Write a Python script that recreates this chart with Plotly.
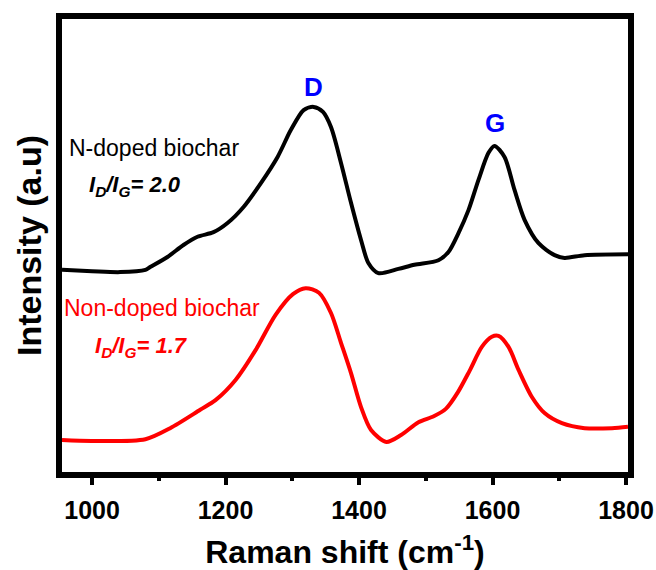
import plotly.graph_objects as go

# Raman shift (cm^-1) and intensity (a.u., offset)
n_doped_x = [955, 1000, 1042, 1080, 1087, 1113, 1137, 1158, 1182, 1203, 1227, 1253,
             1278, 1298, 1317, 1332, 1346, 1358, 1373, 1388, 1403, 1414, 1429, 1459,
             1483, 1519, 1534, 1549, 1564, 1579, 1594, 1603, 1618, 1633, 1648, 1669,
             1693, 1708, 1738, 1803]
n_doped_y = [44.7, 44.4, 44.2, 44.7, 45.3, 47.5, 50.1, 51.9, 52.9, 54.9, 58.4, 63.6,
             69.3, 75.2, 79.5, 80.2, 79.1, 75.8, 68.0, 59.3, 51.2, 46.2, 44.0, 44.9,
             45.8, 46.8, 48.6, 52.7, 57.7, 64.3, 70.2, 71.7, 69.3, 62.1, 55.6, 50.5,
             47.9, 47.3, 47.9, 48.1]

non_doped_x = [955, 1000, 1080, 1117, 1162, 1185, 1215, 1245, 1275, 1301, 1320, 1340,
               1358, 1373, 1388, 1403, 1418, 1441, 1463, 1489, 1512, 1530, 1548, 1566,
               1584, 1599, 1609, 1624, 1639, 1659, 1678, 1704, 1738, 1779, 1803]
non_doped_y = [7.6, 7.4, 7.8, 10.2, 14.2, 16.3, 20.7, 27.2, 34.9, 39.4, 40.7, 39.7,
               35.3, 28.8, 22.2, 14.8, 9.8, 7.2, 8.7, 11.5, 12.8, 14.4, 18.0, 22.8,
               27.9, 30.1, 30.3, 27.9, 22.9, 17.0, 13.5, 11.3, 10.2, 10.2, 10.5]

x_ticks = [1000, 1200, 1400, 1600, 1800]
peak_labels = ["D", "G"]
peak_pos = [1332, 1603]
peak_height = [80.2, 71.7]

FONT = "Liberation Sans, Arial, sans-serif"

fig = go.Figure()
fig.add_trace(go.Scatter(x=n_doped_x, y=n_doped_y, mode="lines",
                         line=dict(color="black", width=4, shape="spline", smoothing=0.8),
                         showlegend=False, hoverinfo="skip"))
fig.add_trace(go.Scatter(x=non_doped_x, y=non_doped_y, mode="lines",
                         line=dict(color="#ff0000", width=4, shape="spline", smoothing=0.8),
                         showlegend=False, hoverinfo="skip"))

for lab, px, ph in zip(peak_labels, peak_pos, peak_height):
    fig.add_annotation(x=px, y=ph, text=lab, showarrow=False,
                       yshift=20 if lab == "D" else 23,
                       font=dict(family=FONT, size=26, color="#0000ff", weight="bold"))

fig.add_annotation(xref="paper", yref="paper", x=0.008, y=0.715, xanchor="left",
                   yanchor="middle", text="N-doped biochar", showarrow=False,
                   font=dict(family=FONT, size=23, color="black"))
fig.add_annotation(xref="paper", yref="paper", x=0.045, y=0.632, xanchor="left",
                   yanchor="middle", text="<i>I<sub>D</sub>/I<sub>G</sub>= 2.0</i>",
                   showarrow=False,
                   font=dict(family=FONT, size=22, color="black", weight="bold"))
fig.add_annotation(xref="paper", yref="paper", x=0.0, y=0.362, xanchor="left",
                   yanchor="middle", text="Non-doped biochar", showarrow=False,
                   font=dict(family=FONT, size=23, color="#ff0000"))
fig.add_annotation(xref="paper", yref="paper", x=0.055, y=0.276, xanchor="left",
                   yanchor="middle", text="<i>I<sub>D</sub>/I<sub>G</sub>= 1.7</i>",
                   showarrow=False,
                   font=dict(family=FONT, size=22, color="#ff0000", weight="bold"))

fig.update_layout(
    width=656, height=570,
    margin=dict(l=62, r=28, t=19, b=98),
    paper_bgcolor="white", plot_bgcolor="white",
    xaxis=dict(range=[955, 1803], tickvals=x_ticks, ticktext=[str(t) for t in x_ticks],
               automargin=False,
               showgrid=False, zeroline=False, showline=True, linewidth=6,
               linecolor="black", mirror=True, ticks="outside", ticklen=7,
               tickwidth=4, tickcolor="black", ticklabelstandoff=4,
               minor=dict(tickvals=[1100, 1300, 1500, 1700], ticks="outside",
                          ticklen=3, tickwidth=4, tickcolor="black"),
               tickfont=dict(family=FONT, size=25, color="black", weight="bold"),
               title=dict(text="Raman shift (cm<sup>-1</sup>)",
                          font=dict(family=FONT, size=32, color="black", weight="bold"),
                          standoff=20)),
    yaxis=dict(range=[0.65, 99.35], automargin=False, showgrid=False, zeroline=False,
               showline=True, linewidth=6, linecolor="black", mirror=True,
               showticklabels=False, ticks="",
               title=dict(text="Intensity (a.u)",
                          font=dict(family=FONT, size=34, color="black", weight="bold"),
                          standoff=6)),
)

fig.write_html("out.html")
